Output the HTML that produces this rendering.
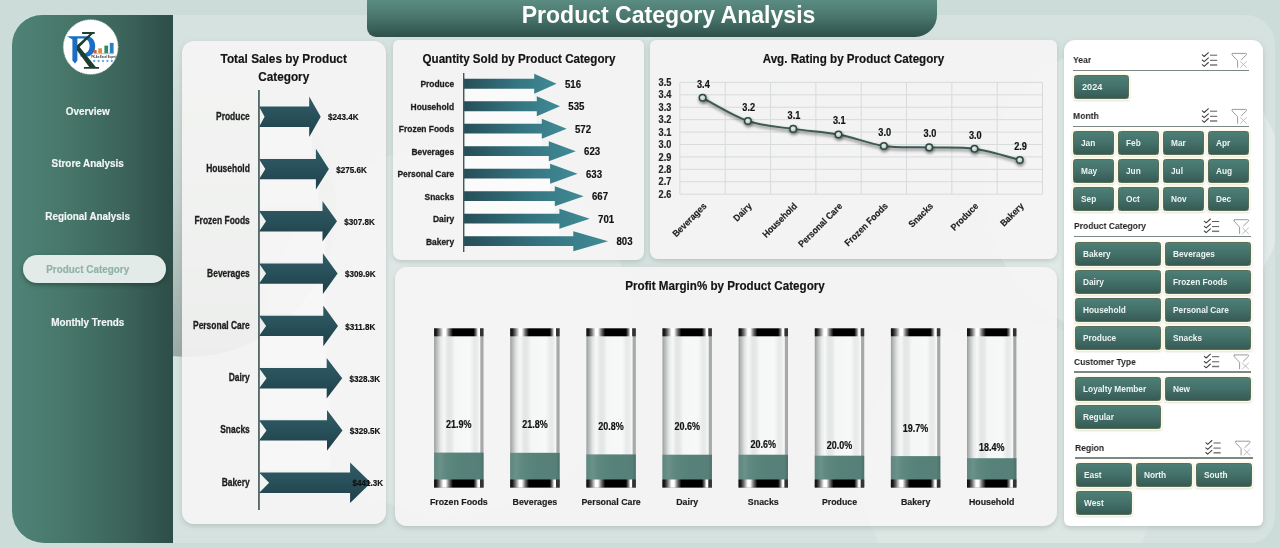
<!DOCTYPE html>
<html><head><meta charset="utf-8"><title>Product Category Analysis</title>
<style>
*{box-sizing:border-box;margin:0;padding:0}
html,body{width:1280px;height:548px;overflow:hidden}
body{background:#ccddd9;font-family:"Liberation Sans",sans-serif;position:relative;color:#1d1d1d}
.abs{position:absolute}
#inner{left:12px;top:15px;width:1263px;height:528px;background:#d6e2df;border-radius:28px 30px 26px 30px}
#side{left:12px;top:15px;width:161px;height:528px;border-radius:30px 0 0 32px;background:linear-gradient(90deg,#4f8377 0%,#477669 35%,#3b635a 70%,#2e4d48 100%)}
#title{left:367px;top:0;width:570px;height:37px;border-radius:0 0 22px 9px;background:linear-gradient(180deg,#5b8c81 0%,#4a776d 45%,#2e504a 100%);color:#fff;font-weight:bold;font-size:23.05px;text-align:center;line-height:31px;padding-left:33px}
.card{background:rgba(245,245,244,0.9);border-radius:12px;box-shadow:0 2px 5px rgba(120,140,135,.35)}
.nav{left:12px;width:151px;text-align:center;color:#f2f6f5;font-weight:bold;font-size:11px;line-height:14px;letter-spacing:-0.2px}
#pill{left:23px;top:255px;width:143px;height:28px;border-radius:14px;background:#e3ebe8;box-shadow:0 2px 4px rgba(20,40,35,.45)}
.sl-h{font-weight:bold;font-size:9.8px;color:#222;line-height:12px;transform:scaleX(0.875);transform-origin:0 50%;white-space:nowrap}
.sl-u{height:1.6px;background:#7f8785}
.btn{background:linear-gradient(180deg,#4d7f77 0%,#43706a 50%,#375a54 100%);border:1px solid #5a6f58;border-radius:2.5px;color:#eef4f2;font-weight:bold;font-size:9.6px;padding-left:7px;box-shadow:0 0 0 1.2px #fdf9e4, 0 1px 2px 1px rgba(120,120,90,.25)}
.btn span{display:inline-block;transform:scaleX(0.865);transform-origin:0 50%;white-space:nowrap}
svg,.btn,.sl-h,#title{will-change:transform}
svg text{font-family:"Liberation Sans",sans-serif;font-weight:bold}
</style></head>
<body>
<div id="inner" class="abs"></div>
<svg class="abs" style="left:0;top:0" width="1280" height="548" viewBox="0 0 1280 548">
<defs>
<linearGradient id="dA" x1="0" y1="0" x2="0" y2="1"><stop offset="0" stop-color="#8e9d99" stop-opacity="0"/><stop offset="0.45" stop-color="#8e9d99" stop-opacity="0.25"/><stop offset="1" stop-color="#8a9995" stop-opacity="0.78"/></linearGradient>
<clipPath id="clipInner"><rect x="12" y="15" width="1263" height="528" rx="28"/></clipPath>
</defs>
<g clip-path="url(#clipInner)">
<circle cx="188" cy="209" r="148" fill="url(#dA)"/>
<circle cx="449" cy="330" r="184" fill="#ffffff" opacity="0.22"/>
<circle cx="1135" cy="190" r="150" fill="#ffffff" opacity="0.28"/>
<circle cx="1010" cy="470" r="150" fill="#ffffff" opacity="0.15"/>
</g>
</svg>
<div id="side" class="abs"></div>
<div id="title" class="abs">Product Category Analysis</div>
<div class="abs card" style="left:181.5px;top:41px;width:204.5px;height:483px"></div>
<div class="abs card" style="left:393px;top:40px;width:251.2px;height:219.7px;border-radius:6px 6px 8px 8px"></div>
<div class="abs card" style="left:650px;top:40px;width:407.3px;height:218.6px;border-radius:6px 6px 8px 8px"></div>
<div class="abs card" style="left:395.3px;top:267px;width:661.4px;height:258.7px;border-radius:12px 12px 14px 12px"></div>
<div class="abs card" style="left:1064px;top:40px;width:199px;height:486px;background:#fff;border-radius:11px 11px 6px 6px"></div>
<div id="pill" class="abs"></div>
<div class="abs sl-h" style="left:1073px;top:53.6px">Year</div>
<div class="abs sl-u" style="left:1073px;top:69.9px;width:176px"></div>
<div class="abs btn" style="left:1074px;top:75.4px;width:55px;height:23.6px;line-height:22.8px"><span><b style="display:inline-block;transform:scaleX(1.13);transform-origin:0 50%;font-size:9.4px">2024</b></span></div>
<div class="abs sl-h" style="left:1073px;top:109.9px">Month</div>
<div class="abs sl-u" style="left:1073px;top:125.9px;width:176px"></div>
<div class="abs btn" style="left:1073px;top:131.4px;width:41px;height:23.6px;line-height:22.8px"><span>Jan</span></div>
<div class="abs btn" style="left:1118px;top:131.4px;width:41px;height:23.6px;line-height:22.8px"><span>Feb</span></div>
<div class="abs btn" style="left:1163px;top:131.4px;width:41px;height:23.6px;line-height:22.8px"><span>Mar</span></div>
<div class="abs btn" style="left:1208px;top:131.4px;width:41px;height:23.6px;line-height:22.8px"><span>Apr</span></div>
<div class="abs btn" style="left:1073px;top:159.4px;width:41px;height:23.6px;line-height:22.8px"><span>May</span></div>
<div class="abs btn" style="left:1118px;top:159.4px;width:41px;height:23.6px;line-height:22.8px"><span>Jun</span></div>
<div class="abs btn" style="left:1163px;top:159.4px;width:41px;height:23.6px;line-height:22.8px"><span>Jul</span></div>
<div class="abs btn" style="left:1208px;top:159.4px;width:41px;height:23.6px;line-height:22.8px"><span>Aug</span></div>
<div class="abs btn" style="left:1073px;top:187.4px;width:41px;height:23.6px;line-height:22.8px"><span>Sep</span></div>
<div class="abs btn" style="left:1118px;top:187.4px;width:41px;height:23.6px;line-height:22.8px"><span>Oct</span></div>
<div class="abs btn" style="left:1163px;top:187.4px;width:41px;height:23.6px;line-height:22.8px"><span>Nov</span></div>
<div class="abs btn" style="left:1208px;top:187.4px;width:41px;height:23.6px;line-height:22.8px"><span>Dec</span></div>
<div class="abs sl-h" style="left:1074px;top:220.4px">Product Category</div>
<div class="abs sl-u" style="left:1074px;top:235.89999999999998px;width:177px"></div>
<div class="abs btn" style="left:1075px;top:242.4px;width:86px;height:23.6px;line-height:22.8px"><span>Bakery</span></div>
<div class="abs btn" style="left:1165px;top:242.4px;width:86px;height:23.6px;line-height:22.8px"><span>Beverages</span></div>
<div class="abs btn" style="left:1075px;top:270.4px;width:86px;height:23.6px;line-height:22.8px"><span>Dairy</span></div>
<div class="abs btn" style="left:1165px;top:270.4px;width:86px;height:23.6px;line-height:22.8px"><span>Frozen Foods</span></div>
<div class="abs btn" style="left:1075px;top:298.4px;width:86px;height:23.6px;line-height:22.8px"><span>Household</span></div>
<div class="abs btn" style="left:1165px;top:298.4px;width:86px;height:23.6px;line-height:22.8px"><span>Personal Care</span></div>
<div class="abs btn" style="left:1075px;top:326.4px;width:86px;height:23.6px;line-height:22.8px"><span>Produce</span></div>
<div class="abs btn" style="left:1165px;top:326.4px;width:86px;height:23.6px;line-height:22.8px"><span>Snacks</span></div>
<div class="abs sl-h" style="left:1074px;top:355.5px">Customer Type</div>
<div class="abs sl-u" style="left:1074px;top:371.0px;width:177px"></div>
<div class="abs btn" style="left:1075px;top:377.4px;width:86px;height:23.6px;line-height:22.8px"><span>Loyalty Member</span></div>
<div class="abs btn" style="left:1165px;top:377.4px;width:86px;height:23.6px;line-height:22.8px"><span>New</span></div>
<div class="abs btn" style="left:1075px;top:405.4px;width:86px;height:23.6px;line-height:22.8px"><span>Regular</span></div>
<div class="abs sl-h" style="left:1075px;top:441.7px">Region</div>
<div class="abs sl-u" style="left:1075px;top:457.09999999999997px;width:178px"></div>
<div class="abs btn" style="left:1076px;top:463.4px;width:56px;height:23.6px;line-height:22.8px"><span>East</span></div>
<div class="abs btn" style="left:1136px;top:463.4px;width:56px;height:23.6px;line-height:22.8px"><span>North</span></div>
<div class="abs btn" style="left:1196px;top:463.4px;width:56px;height:23.6px;line-height:22.8px"><span>South</span></div>
<div class="abs btn" style="left:1076px;top:491.4px;width:56px;height:23.6px;line-height:22.8px"><span>West</span></div>
<svg class="abs" style="left:0;top:0" width="1280" height="548" viewBox="0 0 1280 548">
<defs>
<linearGradient id="gA" x1="0" y1="0" x2="0" y2="1"><stop offset="0" stop-color="#315b65"/><stop offset="0.5" stop-color="#28505a"/><stop offset="1" stop-color="#1e3f48"/></linearGradient>
<linearGradient id="gB" x1="0" y1="0" x2="1" y2="0"><stop offset="0" stop-color="#274e58"/><stop offset="0.55" stop-color="#347480"/><stop offset="1" stop-color="#418b96"/></linearGradient>
<linearGradient id="gCap" x1="0" y1="0" x2="1" y2="0"><stop offset="0" stop-color="#0d0d0d"/><stop offset="0.045" stop-color="#1c1c1c"/><stop offset="0.10" stop-color="#6a6a6a"/><stop offset="0.185" stop-color="#ffffff"/><stop offset="0.235" stop-color="#ffffff"/><stop offset="0.30" stop-color="#777"/><stop offset="0.38" stop-color="#000"/><stop offset="0.80" stop-color="#000"/><stop offset="0.85" stop-color="#777"/><stop offset="0.89" stop-color="#fff"/><stop offset="0.92" stop-color="#fff"/><stop offset="0.935" stop-color="#333"/><stop offset="1" stop-color="#333"/></linearGradient>
<linearGradient id="gTube" x1="0" y1="0" x2="1" y2="0"><stop offset="0" stop-color="#9a9d9d"/><stop offset="0.04" stop-color="#b4b7b7"/><stop offset="0.13" stop-color="#e6e8e8"/><stop offset="0.20" stop-color="#f6f7f7"/><stop offset="0.28" stop-color="#e4e6e6"/><stop offset="0.35" stop-color="#e6e8e8"/><stop offset="0.42" stop-color="#f5f6f6"/><stop offset="0.72" stop-color="#f7f8f8"/><stop offset="0.82" stop-color="#e7e9e9"/><stop offset="0.88" stop-color="#ebeded"/><stop offset="0.925" stop-color="#f8f8f8"/><stop offset="0.945" stop-color="#a9acac"/><stop offset="1" stop-color="#a2a5a5"/></linearGradient>
<linearGradient id="gFill" x1="0" y1="0" x2="1" y2="0"><stop offset="0" stop-color="#5b867e"/><stop offset="0.12" stop-color="#6b9189"/><stop offset="0.25" stop-color="#5d877f"/><stop offset="0.5" stop-color="#56827a"/><stop offset="0.93" stop-color="#567f78"/><stop offset="1" stop-color="#4a7069"/></linearGradient>
<radialGradient id="gDot" cx="0.45" cy="0.42" r="0.6"><stop offset="0" stop-color="#eef3f1"/><stop offset="0.55" stop-color="#c3d2ce"/><stop offset="1" stop-color="#7d9a93"/></radialGradient>
<filter id="sh" x="-50%" y="-50%" width="200%" height="200%"><feGaussianBlur stdDeviation="1.5"/></filter>
</defs>
<g id="c1">
<text transform="translate(283.7,63.0) scale(0.908,1)" font-size="13" text-anchor="middle" fill="#131313" stroke="#131313" stroke-width="0.18" >Total Sales by Product</text>
<text transform="translate(283.7,80.5) scale(0.908,1)" font-size="13" text-anchor="middle" fill="#131313" stroke="#131313" stroke-width="0.18" >Category</text>
<rect x="260.0" y="127.0" width="52.2" height="30" fill="#ffffff" opacity="0.32"/>
<path d="M259.0,106.6 L309.2,106.6 L309.2,96.5 L320.7,116.8 L309.2,137.1 L309.2,127.0 L259.0,127.0 L264.6,116.8 Z" fill="url(#gA)"/>
<text transform="translate(249.8,119.8) scale(0.845,1)" font-size="10" text-anchor="end" fill="#1d1d1d" stroke="#1d1d1d" stroke-width="0.3" >Produce</text>
<text transform="translate(328.0,120.4) scale(0.9,1)" font-size="9" text-anchor="start" fill="#111" stroke="#111" stroke-width="0.18" >$243.4K</text>
<rect x="260.0" y="179.3" width="58.9" height="30" fill="#ffffff" opacity="0.32"/>
<path d="M259.0,158.9 L315.9,158.9 L315.9,148.8 L328.9,169.1 L315.9,189.4 L315.9,179.3 L259.0,179.3 L265.3,169.1 Z" fill="url(#gA)"/>
<text transform="translate(249.8,172.1) scale(0.845,1)" font-size="10" text-anchor="end" fill="#1d1d1d" stroke="#1d1d1d" stroke-width="0.3" >Household</text>
<text transform="translate(336.2,172.7) scale(0.9,1)" font-size="9" text-anchor="start" fill="#111" stroke="#111" stroke-width="0.18" >$275.6K</text>
<rect x="260.0" y="231.5" width="65.5" height="30" fill="#ffffff" opacity="0.32"/>
<path d="M259.0,211.1 L322.5,211.1 L322.5,201.0 L337.0,221.3 L322.5,241.6 L322.5,231.5 L259.0,231.5 L266.0,221.3 Z" fill="url(#gA)"/>
<text transform="translate(249.8,224.3) scale(0.845,1)" font-size="10" text-anchor="end" fill="#1d1d1d" stroke="#1d1d1d" stroke-width="0.3" >Frozen Foods</text>
<text transform="translate(344.3,224.9) scale(0.9,1)" font-size="9" text-anchor="start" fill="#111" stroke="#111" stroke-width="0.18" >$307.8K</text>
<rect x="260.0" y="283.8" width="65.9" height="30" fill="#ffffff" opacity="0.32"/>
<path d="M259.0,263.4 L322.9,263.4 L322.9,253.3 L337.6,273.6 L322.9,293.9 L322.9,283.8 L259.0,283.8 L266.1,273.6 Z" fill="url(#gA)"/>
<text transform="translate(249.8,276.6) scale(0.845,1)" font-size="10" text-anchor="end" fill="#1d1d1d" stroke="#1d1d1d" stroke-width="0.3" >Beverages</text>
<text transform="translate(344.9,277.2) scale(0.9,1)" font-size="9" text-anchor="start" fill="#111" stroke="#111" stroke-width="0.18" >$309.9K</text>
<rect x="260.0" y="336.1" width="66.3" height="30" fill="#ffffff" opacity="0.32"/>
<path d="M259.0,315.7 L323.3,315.7 L323.3,305.6 L338.0,325.9 L323.3,346.2 L323.3,336.1 L259.0,336.1 L266.1,325.9 Z" fill="url(#gA)"/>
<text transform="translate(249.8,328.9) scale(0.845,1)" font-size="10" text-anchor="end" fill="#1d1d1d" stroke="#1d1d1d" stroke-width="0.3" >Personal Care</text>
<text transform="translate(345.3,329.5) scale(0.9,1)" font-size="9" text-anchor="start" fill="#111" stroke="#111" stroke-width="0.18" >$311.8K</text>
<rect x="260.0" y="388.4" width="69.7" height="30" fill="#ffffff" opacity="0.32"/>
<path d="M259.0,368.0 L326.7,368.0 L326.7,357.9 L342.2,378.2 L326.7,398.5 L326.7,388.4 L259.0,388.4 L266.5,378.2 Z" fill="url(#gA)"/>
<text transform="translate(249.8,381.2) scale(0.845,1)" font-size="10" text-anchor="end" fill="#1d1d1d" stroke="#1d1d1d" stroke-width="0.3" >Dairy</text>
<text transform="translate(349.5,381.8) scale(0.9,1)" font-size="9" text-anchor="start" fill="#111" stroke="#111" stroke-width="0.18" >$328.3K</text>
<rect x="260.0" y="440.6" width="70.0" height="30" fill="#ffffff" opacity="0.32"/>
<path d="M259.0,420.2 L327.0,420.2 L327.0,410.1 L342.5,430.4 L327.0,450.7 L327.0,440.6 L259.0,440.6 L266.5,430.4 Z" fill="url(#gA)"/>
<text transform="translate(249.8,433.4) scale(0.845,1)" font-size="10" text-anchor="end" fill="#1d1d1d" stroke="#1d1d1d" stroke-width="0.3" >Snacks</text>
<text transform="translate(349.8,434.0) scale(0.9,1)" font-size="9" text-anchor="start" fill="#111" stroke="#111" stroke-width="0.18" >$329.5K</text>
<path d="M259.0,472.5 L350.1,472.5 L350.1,462.4 L370.9,482.7 L350.1,503.0 L350.1,492.9 L259.0,492.9 L269.1,482.7 Z" fill="url(#gA)"/>
<text transform="translate(249.8,485.7) scale(0.845,1)" font-size="10" text-anchor="end" fill="#1d1d1d" stroke="#1d1d1d" stroke-width="0.3" >Bakery</text>
<text transform="translate(352.5,486.3) scale(0.9,1)" font-size="9" text-anchor="start" fill="#111" stroke="#111" stroke-width="0.18" >$441.3K</text>
<rect x="258.1" y="90" width="1.7" height="420" fill="#475c5d"/>
</g>
<g id="c2">
<text transform="translate(519.0,63.0) scale(0.93,1)" font-size="12.5" text-anchor="middle" fill="#131313" stroke="#131313" stroke-width="0.18" >Quantity Sold by Product Category</text>
<rect x="465.5" y="88.3" width="68.7" height="12.5" fill="#ffffff" opacity="0.6"/>
<path d="M464.0,78.8 L534.2,78.8 L534.2,73.7 L556.6,83.7 L534.2,93.7 L534.2,88.7 L464.0,88.7 Z" fill="url(#gB)"/>
<text transform="translate(454.1,87.0) scale(0.862,1)" font-size="9.8" text-anchor="end" fill="#1d1d1d" stroke="#1d1d1d" stroke-width="0.3" >Produce</text>
<text transform="translate(564.9,87.5) scale(0.92,1)" font-size="10.5" text-anchor="start" fill="#111" stroke="#111" stroke-width="0.18" >516</text>
<rect x="465.5" y="110.8" width="71.3" height="12.5" fill="#ffffff" opacity="0.6"/>
<path d="M464.0,101.2 L536.8,101.2 L536.8,96.2 L560.0,106.2 L536.8,116.2 L536.8,111.2 L464.0,111.2 Z" fill="url(#gB)"/>
<text transform="translate(454.1,109.5) scale(0.862,1)" font-size="9.8" text-anchor="end" fill="#1d1d1d" stroke="#1d1d1d" stroke-width="0.3" >Household</text>
<text transform="translate(568.3,110.0) scale(0.92,1)" font-size="10.5" text-anchor="start" fill="#111" stroke="#111" stroke-width="0.18" >535</text>
<rect x="465.5" y="133.3" width="76.3" height="12.5" fill="#ffffff" opacity="0.6"/>
<path d="M464.0,123.7 L541.8,123.7 L541.8,118.7 L566.7,128.7 L541.8,138.7 L541.8,133.6 L464.0,133.6 Z" fill="url(#gB)"/>
<text transform="translate(454.1,132.0) scale(0.862,1)" font-size="9.8" text-anchor="end" fill="#1d1d1d" stroke="#1d1d1d" stroke-width="0.3" >Frozen Foods</text>
<text transform="translate(575.0,132.5) scale(0.92,1)" font-size="10.5" text-anchor="start" fill="#111" stroke="#111" stroke-width="0.18" >572</text>
<rect x="465.5" y="155.8" width="83.3" height="12.5" fill="#ffffff" opacity="0.6"/>
<path d="M464.0,146.2 L548.8,146.2 L548.8,141.2 L575.8,151.2 L548.8,161.2 L548.8,156.1 L464.0,156.1 Z" fill="url(#gB)"/>
<text transform="translate(454.1,154.5) scale(0.862,1)" font-size="9.8" text-anchor="end" fill="#1d1d1d" stroke="#1d1d1d" stroke-width="0.3" >Beverages</text>
<text transform="translate(584.1,155.0) scale(0.92,1)" font-size="10.5" text-anchor="start" fill="#111" stroke="#111" stroke-width="0.18" >623</text>
<rect x="465.5" y="178.3" width="84.6" height="12.5" fill="#ffffff" opacity="0.6"/>
<path d="M464.0,168.8 L550.1,168.8 L550.1,163.7 L577.6,173.7 L550.1,183.7 L550.1,178.6 L464.0,178.6 Z" fill="url(#gB)"/>
<text transform="translate(454.1,177.0) scale(0.862,1)" font-size="9.8" text-anchor="end" fill="#1d1d1d" stroke="#1d1d1d" stroke-width="0.3" >Personal Care</text>
<text transform="translate(585.9,177.5) scale(0.92,1)" font-size="10.5" text-anchor="start" fill="#111" stroke="#111" stroke-width="0.18" >633</text>
<rect x="465.5" y="200.8" width="89.3" height="12.5" fill="#ffffff" opacity="0.6"/>
<path d="M464.0,191.2 L554.8,191.2 L554.8,186.2 L583.7,196.2 L554.8,206.2 L554.8,201.1 L464.0,201.1 Z" fill="url(#gB)"/>
<text transform="translate(454.1,199.5) scale(0.862,1)" font-size="9.8" text-anchor="end" fill="#1d1d1d" stroke="#1d1d1d" stroke-width="0.3" >Snacks</text>
<text transform="translate(592.0,200.0) scale(0.92,1)" font-size="10.5" text-anchor="start" fill="#111" stroke="#111" stroke-width="0.18" >667</text>
<rect x="465.5" y="223.3" width="93.9" height="12.5" fill="#ffffff" opacity="0.6"/>
<path d="M464.0,213.8 L559.4,213.8 L559.4,208.7 L589.8,218.7 L559.4,228.7 L559.4,223.6 L464.0,223.6 Z" fill="url(#gB)"/>
<text transform="translate(454.1,222.0) scale(0.862,1)" font-size="9.8" text-anchor="end" fill="#1d1d1d" stroke="#1d1d1d" stroke-width="0.3" >Dairy</text>
<text transform="translate(598.1,222.5) scale(0.92,1)" font-size="10.5" text-anchor="start" fill="#111" stroke="#111" stroke-width="0.18" >701</text>
<path d="M464.0,236.2 L573.3,236.2 L573.3,231.2 L608.1,241.2 L573.3,251.2 L573.3,246.1 L464.0,246.1 Z" fill="url(#gB)"/>
<text transform="translate(454.1,244.5) scale(0.862,1)" font-size="9.8" text-anchor="end" fill="#1d1d1d" stroke="#1d1d1d" stroke-width="0.3" >Bakery</text>
<text transform="translate(616.4,245.0) scale(0.92,1)" font-size="10.5" text-anchor="start" fill="#111" stroke="#111" stroke-width="0.18" >803</text>
<rect x="463" y="73" width="1.4" height="179" fill="#3c5a5e"/>
</g>
<g id="c3">
<text transform="translate(853.5,63.0) scale(0.93,1)" font-size="12.5" text-anchor="middle" fill="#131313" stroke="#131313" stroke-width="0.18" >Avg. Rating by Product Category</text>
<line x1="679.9" y1="82.40" x2="1042.5" y2="82.40" stroke="#d8dbdb" stroke-width="1"/>
<text transform="translate(671.3,86.0) scale(0.92,1)" font-size="10" text-anchor="end" fill="#222" stroke="#222" stroke-width="0.18" >3.5</text>
<line x1="679.9" y1="94.82" x2="1042.5" y2="94.82" stroke="#d8dbdb" stroke-width="1"/>
<text transform="translate(671.3,98.4) scale(0.92,1)" font-size="10" text-anchor="end" fill="#222" stroke="#222" stroke-width="0.18" >3.4</text>
<line x1="679.9" y1="107.24" x2="1042.5" y2="107.24" stroke="#d8dbdb" stroke-width="1"/>
<text transform="translate(671.3,110.8) scale(0.92,1)" font-size="10" text-anchor="end" fill="#222" stroke="#222" stroke-width="0.18" >3.3</text>
<line x1="679.9" y1="119.67" x2="1042.5" y2="119.67" stroke="#d8dbdb" stroke-width="1"/>
<text transform="translate(671.3,123.3) scale(0.92,1)" font-size="10" text-anchor="end" fill="#222" stroke="#222" stroke-width="0.18" >3.2</text>
<line x1="679.9" y1="132.09" x2="1042.5" y2="132.09" stroke="#d8dbdb" stroke-width="1"/>
<text transform="translate(671.3,135.7) scale(0.92,1)" font-size="10" text-anchor="end" fill="#222" stroke="#222" stroke-width="0.18" >3.1</text>
<line x1="679.9" y1="144.51" x2="1042.5" y2="144.51" stroke="#d8dbdb" stroke-width="1"/>
<text transform="translate(671.3,148.1) scale(0.92,1)" font-size="10" text-anchor="end" fill="#222" stroke="#222" stroke-width="0.18" >3.0</text>
<line x1="679.9" y1="156.93" x2="1042.5" y2="156.93" stroke="#d8dbdb" stroke-width="1"/>
<text transform="translate(671.3,160.5) scale(0.92,1)" font-size="10" text-anchor="end" fill="#222" stroke="#222" stroke-width="0.18" >2.9</text>
<line x1="679.9" y1="169.36" x2="1042.5" y2="169.36" stroke="#d8dbdb" stroke-width="1"/>
<text transform="translate(671.3,173.0) scale(0.92,1)" font-size="10" text-anchor="end" fill="#222" stroke="#222" stroke-width="0.18" >2.8</text>
<line x1="679.9" y1="181.78" x2="1042.5" y2="181.78" stroke="#d8dbdb" stroke-width="1"/>
<text transform="translate(671.3,185.4) scale(0.92,1)" font-size="10" text-anchor="end" fill="#222" stroke="#222" stroke-width="0.18" >2.7</text>
<line x1="679.9" y1="194.20" x2="1042.5" y2="194.20" stroke="#d8dbdb" stroke-width="1"/>
<text transform="translate(671.3,197.8) scale(0.92,1)" font-size="10" text-anchor="end" fill="#222" stroke="#222" stroke-width="0.18" >2.6</text>
<line x1="679.90" y1="82.4" x2="679.90" y2="194.2" stroke="#d8dbdb" stroke-width="1"/>
<line x1="725.23" y1="82.4" x2="725.23" y2="194.2" stroke="#d8dbdb" stroke-width="1"/>
<line x1="770.55" y1="82.4" x2="770.55" y2="194.2" stroke="#d8dbdb" stroke-width="1"/>
<line x1="815.88" y1="82.4" x2="815.88" y2="194.2" stroke="#d8dbdb" stroke-width="1"/>
<line x1="861.20" y1="82.4" x2="861.20" y2="194.2" stroke="#d8dbdb" stroke-width="1"/>
<line x1="906.52" y1="82.4" x2="906.52" y2="194.2" stroke="#d8dbdb" stroke-width="1"/>
<line x1="951.85" y1="82.4" x2="951.85" y2="194.2" stroke="#d8dbdb" stroke-width="1"/>
<line x1="997.17" y1="82.4" x2="997.17" y2="194.2" stroke="#d8dbdb" stroke-width="1"/>
<line x1="1042.50" y1="82.4" x2="1042.50" y2="194.2" stroke="#d8dbdb" stroke-width="1"/>
<path d="M702.6,97.8 C710.1,101.7 732.8,115.8 747.9,121.0 C763.0,126.2 778.1,126.7 793.2,128.9 C808.3,131.2 823.4,131.7 838.5,134.5 C853.6,137.3 868.8,143.8 883.9,146.0 C899.0,148.2 914.1,146.9 929.2,147.4 C944.3,147.9 959.4,146.7 974.5,148.8 C989.6,150.9 1012.3,158.1 1019.8,160.0" fill="none" stroke="#000" stroke-opacity="0.35" stroke-width="3" filter="url(#sh)" transform="translate(0.5,2)"/>
<path d="M702.6,97.8 C710.1,101.7 732.8,115.8 747.9,121.0 C763.0,126.2 778.1,126.7 793.2,128.9 C808.3,131.2 823.4,131.7 838.5,134.5 C853.6,137.3 868.8,143.8 883.9,146.0 C899.0,148.2 914.1,146.9 929.2,147.4 C944.3,147.9 959.4,146.7 974.5,148.8 C989.6,150.9 1012.3,158.1 1019.8,160.0" fill="none" stroke="#3b5a54" stroke-width="1.9" stroke-linecap="round"/>
<circle cx="703.1" cy="99.6" r="4.6" fill="#000" opacity="0.4" filter="url(#sh)"/>
<circle cx="702.6" cy="97.8" r="3.3" fill="url(#gDot)" stroke="#2d4842" stroke-width="1.5"/>
<text transform="translate(703.4,87.6) scale(0.92,1)" font-size="10" text-anchor="middle" fill="#111" stroke="#111" stroke-width="0.18" >3.4</text>
<text transform="translate(707.1,206.7) rotate(-45) scale(0.93,1)" font-size="9.3" text-anchor="end" fill="#1d1d1d" stroke="#1d1d1d" stroke-width="0.18" >Beverages</text>
<circle cx="748.4" cy="122.8" r="4.6" fill="#000" opacity="0.4" filter="url(#sh)"/>
<circle cx="747.9" cy="121.0" r="3.3" fill="url(#gDot)" stroke="#2d4842" stroke-width="1.5"/>
<text transform="translate(748.7,110.8) scale(0.92,1)" font-size="10" text-anchor="middle" fill="#111" stroke="#111" stroke-width="0.18" >3.2</text>
<text transform="translate(752.4,206.7) rotate(-45) scale(0.93,1)" font-size="9.3" text-anchor="end" fill="#1d1d1d" stroke="#1d1d1d" stroke-width="0.18" >Dairy</text>
<circle cx="793.7" cy="130.7" r="4.6" fill="#000" opacity="0.4" filter="url(#sh)"/>
<circle cx="793.2" cy="128.9" r="3.3" fill="url(#gDot)" stroke="#2d4842" stroke-width="1.5"/>
<text transform="translate(794.0,118.7) scale(0.92,1)" font-size="10" text-anchor="middle" fill="#111" stroke="#111" stroke-width="0.18" >3.1</text>
<text transform="translate(797.7,206.7) rotate(-45) scale(0.93,1)" font-size="9.3" text-anchor="end" fill="#1d1d1d" stroke="#1d1d1d" stroke-width="0.18" >Household</text>
<circle cx="839.0" cy="136.3" r="4.6" fill="#000" opacity="0.4" filter="url(#sh)"/>
<circle cx="838.5" cy="134.5" r="3.3" fill="url(#gDot)" stroke="#2d4842" stroke-width="1.5"/>
<text transform="translate(839.3,124.3) scale(0.92,1)" font-size="10" text-anchor="middle" fill="#111" stroke="#111" stroke-width="0.18" >3.1</text>
<text transform="translate(843.0,206.7) rotate(-45) scale(0.93,1)" font-size="9.3" text-anchor="end" fill="#1d1d1d" stroke="#1d1d1d" stroke-width="0.18" >Personal Care</text>
<circle cx="884.4" cy="147.8" r="4.6" fill="#000" opacity="0.4" filter="url(#sh)"/>
<circle cx="883.9" cy="146.0" r="3.3" fill="url(#gDot)" stroke="#2d4842" stroke-width="1.5"/>
<text transform="translate(884.7,135.8) scale(0.92,1)" font-size="10" text-anchor="middle" fill="#111" stroke="#111" stroke-width="0.18" >3.0</text>
<text transform="translate(888.4,206.7) rotate(-45) scale(0.93,1)" font-size="9.3" text-anchor="end" fill="#1d1d1d" stroke="#1d1d1d" stroke-width="0.18" >Frozen Foods</text>
<circle cx="929.7" cy="149.2" r="4.6" fill="#000" opacity="0.4" filter="url(#sh)"/>
<circle cx="929.2" cy="147.4" r="3.3" fill="url(#gDot)" stroke="#2d4842" stroke-width="1.5"/>
<text transform="translate(930.0,137.2) scale(0.92,1)" font-size="10" text-anchor="middle" fill="#111" stroke="#111" stroke-width="0.18" >3.0</text>
<text transform="translate(933.7,206.7) rotate(-45) scale(0.93,1)" font-size="9.3" text-anchor="end" fill="#1d1d1d" stroke="#1d1d1d" stroke-width="0.18" >Snacks</text>
<circle cx="975.0" cy="150.6" r="4.6" fill="#000" opacity="0.4" filter="url(#sh)"/>
<circle cx="974.5" cy="148.8" r="3.3" fill="url(#gDot)" stroke="#2d4842" stroke-width="1.5"/>
<text transform="translate(975.3,138.6) scale(0.92,1)" font-size="10" text-anchor="middle" fill="#111" stroke="#111" stroke-width="0.18" >3.0</text>
<text transform="translate(979.0,206.7) rotate(-45) scale(0.93,1)" font-size="9.3" text-anchor="end" fill="#1d1d1d" stroke="#1d1d1d" stroke-width="0.18" >Produce</text>
<circle cx="1020.3" cy="161.8" r="4.6" fill="#000" opacity="0.4" filter="url(#sh)"/>
<circle cx="1019.8" cy="160.0" r="3.3" fill="url(#gDot)" stroke="#2d4842" stroke-width="1.5"/>
<text transform="translate(1020.6,149.8) scale(0.92,1)" font-size="10" text-anchor="middle" fill="#111" stroke="#111" stroke-width="0.18" >2.9</text>
<text transform="translate(1024.3,206.7) rotate(-45) scale(0.93,1)" font-size="9.3" text-anchor="end" fill="#1d1d1d" stroke="#1d1d1d" stroke-width="0.18" >Bakery</text>
</g>
<g id="c4">
<text transform="translate(725.0,289.5) scale(0.93,1)" font-size="12.5" text-anchor="middle" fill="#131313" stroke="#131313" stroke-width="0.18" >Profit Margin% by Product Category</text>
<rect x="434.1" y="328.3" width="49.4" height="159.2" fill="url(#gTube)"/>
<rect x="434.1" y="452.6" width="49.4" height="34.9" fill="url(#gFill)"/>
<rect x="434.1" y="328.3" width="49.4" height="8" fill="url(#gCap)"/>
<rect x="434.1" y="479.5" width="49.4" height="8" fill="url(#gCap)"/>
<text transform="translate(458.8,428.0) scale(0.9,1)" font-size="10" text-anchor="middle" fill="#111" stroke="#111" stroke-width="0.18" >21.9%</text>
<text transform="translate(458.8,505.2) scale(0.9,1)" font-size="9.8" text-anchor="middle" fill="#1d1d1d" stroke="#1d1d1d" stroke-width="0.18" >Frozen Foods</text>
<rect x="510.2" y="328.3" width="49.4" height="159.2" fill="url(#gTube)"/>
<rect x="510.2" y="452.8" width="49.4" height="34.7" fill="url(#gFill)"/>
<rect x="510.2" y="328.3" width="49.4" height="8" fill="url(#gCap)"/>
<rect x="510.2" y="479.5" width="49.4" height="8" fill="url(#gCap)"/>
<text transform="translate(534.9,428.0) scale(0.9,1)" font-size="10" text-anchor="middle" fill="#111" stroke="#111" stroke-width="0.18" >21.8%</text>
<text transform="translate(534.9,505.2) scale(0.9,1)" font-size="9.8" text-anchor="middle" fill="#1d1d1d" stroke="#1d1d1d" stroke-width="0.18" >Beverages</text>
<rect x="586.4" y="328.3" width="49.4" height="159.2" fill="url(#gTube)"/>
<rect x="586.4" y="454.4" width="49.4" height="33.1" fill="url(#gFill)"/>
<rect x="586.4" y="328.3" width="49.4" height="8" fill="url(#gCap)"/>
<rect x="586.4" y="479.5" width="49.4" height="8" fill="url(#gCap)"/>
<text transform="translate(611.1,430.1) scale(0.9,1)" font-size="10" text-anchor="middle" fill="#111" stroke="#111" stroke-width="0.18" >20.8%</text>
<text transform="translate(611.1,505.2) scale(0.9,1)" font-size="9.8" text-anchor="middle" fill="#1d1d1d" stroke="#1d1d1d" stroke-width="0.18" >Personal Care</text>
<rect x="662.5" y="328.3" width="49.4" height="159.2" fill="url(#gTube)"/>
<rect x="662.5" y="454.7" width="49.4" height="32.8" fill="url(#gFill)"/>
<rect x="662.5" y="328.3" width="49.4" height="8" fill="url(#gCap)"/>
<rect x="662.5" y="479.5" width="49.4" height="8" fill="url(#gCap)"/>
<text transform="translate(687.2,430.1) scale(0.9,1)" font-size="10" text-anchor="middle" fill="#111" stroke="#111" stroke-width="0.18" >20.6%</text>
<text transform="translate(687.2,505.2) scale(0.9,1)" font-size="9.8" text-anchor="middle" fill="#1d1d1d" stroke="#1d1d1d" stroke-width="0.18" >Dairy</text>
<rect x="738.6" y="328.3" width="49.4" height="159.2" fill="url(#gTube)"/>
<rect x="738.6" y="454.7" width="49.4" height="32.8" fill="url(#gFill)"/>
<rect x="738.6" y="328.3" width="49.4" height="8" fill="url(#gCap)"/>
<rect x="738.6" y="479.5" width="49.4" height="8" fill="url(#gCap)"/>
<text transform="translate(763.3,447.5) scale(0.9,1)" font-size="10" text-anchor="middle" fill="#111" stroke="#111" stroke-width="0.18" >20.6%</text>
<text transform="translate(763.3,505.2) scale(0.9,1)" font-size="9.8" text-anchor="middle" fill="#1d1d1d" stroke="#1d1d1d" stroke-width="0.18" >Snacks</text>
<rect x="814.8" y="328.3" width="49.4" height="159.2" fill="url(#gTube)"/>
<rect x="814.8" y="455.7" width="49.4" height="31.8" fill="url(#gFill)"/>
<rect x="814.8" y="328.3" width="49.4" height="8" fill="url(#gCap)"/>
<rect x="814.8" y="479.5" width="49.4" height="8" fill="url(#gCap)"/>
<text transform="translate(839.5,448.5) scale(0.9,1)" font-size="10" text-anchor="middle" fill="#111" stroke="#111" stroke-width="0.18" >20.0%</text>
<text transform="translate(839.5,505.2) scale(0.9,1)" font-size="9.8" text-anchor="middle" fill="#1d1d1d" stroke="#1d1d1d" stroke-width="0.18" >Produce</text>
<rect x="890.9" y="328.3" width="49.4" height="159.2" fill="url(#gTube)"/>
<rect x="890.9" y="456.1" width="49.4" height="31.4" fill="url(#gFill)"/>
<rect x="890.9" y="328.3" width="49.4" height="8" fill="url(#gCap)"/>
<rect x="890.9" y="479.5" width="49.4" height="8" fill="url(#gCap)"/>
<text transform="translate(915.6,431.7) scale(0.9,1)" font-size="10" text-anchor="middle" fill="#111" stroke="#111" stroke-width="0.18" >19.7%</text>
<text transform="translate(915.6,505.2) scale(0.9,1)" font-size="9.8" text-anchor="middle" fill="#1d1d1d" stroke="#1d1d1d" stroke-width="0.18" >Bakery</text>
<rect x="967.0" y="328.3" width="49.4" height="159.2" fill="url(#gTube)"/>
<rect x="967.0" y="458.2" width="49.4" height="29.3" fill="url(#gFill)"/>
<rect x="967.0" y="328.3" width="49.4" height="8" fill="url(#gCap)"/>
<rect x="967.0" y="479.5" width="49.4" height="8" fill="url(#gCap)"/>
<text transform="translate(991.7,451.1) scale(0.9,1)" font-size="10" text-anchor="middle" fill="#111" stroke="#111" stroke-width="0.18" >18.4%</text>
<text transform="translate(991.7,505.2) scale(0.9,1)" font-size="9.8" text-anchor="middle" fill="#1d1d1d" stroke="#1d1d1d" stroke-width="0.18" >Household</text>
</g>
<g id="icons">
<path d="M1202.3,54.9 l1.9,1.6 l4.2,-3.8" fill="none" stroke="#3f3f3f" stroke-width="1.05" stroke-linecap="round" stroke-linejoin="round"/>
<line x1="1210.0" y1="55.2" x2="1217.2" y2="55.2" stroke="#4a4a4a" stroke-width="0.9"/>
<path d="M1202.3,60.0 l1.9,1.6 l4.2,-3.8" fill="none" stroke="#3f3f3f" stroke-width="1.05" stroke-linecap="round" stroke-linejoin="round"/>
<line x1="1210.0" y1="60.3" x2="1217.2" y2="60.3" stroke="#4a4a4a" stroke-width="0.9"/>
<path d="M1202.3,64.7 l1.9,1.6 l4.2,-3.8" fill="none" stroke="#3f3f3f" stroke-width="1.05" stroke-linecap="round" stroke-linejoin="round"/>
<line x1="1210.0" y1="65.0" x2="1217.2" y2="65.0" stroke="#777" stroke-width="1.5"/>
<path d="M1232.5,53.4 h13.2 q1.3,0 0.9,1.3 l-5.2,5.0 M1237.6,67.2 v-6.4 l-5.6,-6.0 q-0.6,-1.4 0.6,-1.4" fill="none" stroke="#9a9a9a" stroke-width="1.0" stroke-linejoin="round" stroke-linecap="round"/>
<path d="M1240.5,61.6 l6.0,5.8 M1246.5,61.6 l-6.0,5.8" fill="none" stroke="#b5b5b5" stroke-width="0.9" stroke-linecap="round"/>
<path d="M1202.3,110.9 l1.9,1.6 l4.2,-3.8" fill="none" stroke="#3f3f3f" stroke-width="1.05" stroke-linecap="round" stroke-linejoin="round"/>
<line x1="1210.0" y1="111.2" x2="1217.2" y2="111.2" stroke="#4a4a4a" stroke-width="0.9"/>
<path d="M1202.3,116.0 l1.9,1.6 l4.2,-3.8" fill="none" stroke="#3f3f3f" stroke-width="1.05" stroke-linecap="round" stroke-linejoin="round"/>
<line x1="1210.0" y1="116.3" x2="1217.2" y2="116.3" stroke="#4a4a4a" stroke-width="0.9"/>
<path d="M1202.3,120.7 l1.9,1.6 l4.2,-3.8" fill="none" stroke="#3f3f3f" stroke-width="1.05" stroke-linecap="round" stroke-linejoin="round"/>
<line x1="1210.0" y1="121.0" x2="1217.2" y2="121.0" stroke="#777" stroke-width="1.5"/>
<path d="M1232.5,109.4 h13.2 q1.3,0 0.9,1.3 l-5.2,5.0 M1237.6,123.2 v-6.4 l-5.6,-6.0 q-0.6,-1.4 0.6,-1.4" fill="none" stroke="#9a9a9a" stroke-width="1.0" stroke-linejoin="round" stroke-linecap="round"/>
<path d="M1240.5,117.6 l6.0,5.8 M1246.5,117.6 l-6.0,5.8" fill="none" stroke="#b5b5b5" stroke-width="0.9" stroke-linecap="round"/>
<path d="M1204.3,221.2 l1.9,1.6 l4.2,-3.8" fill="none" stroke="#3f3f3f" stroke-width="1.05" stroke-linecap="round" stroke-linejoin="round"/>
<line x1="1212.0" y1="221.5" x2="1219.2" y2="221.5" stroke="#4a4a4a" stroke-width="0.9"/>
<path d="M1204.3,226.3 l1.9,1.6 l4.2,-3.8" fill="none" stroke="#3f3f3f" stroke-width="1.05" stroke-linecap="round" stroke-linejoin="round"/>
<line x1="1212.0" y1="226.6" x2="1219.2" y2="226.6" stroke="#4a4a4a" stroke-width="0.9"/>
<path d="M1204.3,231.0 l1.9,1.6 l4.2,-3.8" fill="none" stroke="#3f3f3f" stroke-width="1.05" stroke-linecap="round" stroke-linejoin="round"/>
<line x1="1212.0" y1="231.3" x2="1219.2" y2="231.3" stroke="#777" stroke-width="1.5"/>
<path d="M1234.5,219.7 h13.2 q1.3,0 0.9,1.3 l-5.2,5.0 M1239.6,233.5 v-6.4 l-5.6,-6.0 q-0.6,-1.4 0.6,-1.4" fill="none" stroke="#9a9a9a" stroke-width="1.0" stroke-linejoin="round" stroke-linecap="round"/>
<path d="M1242.5,227.9 l6.0,5.8 M1248.5,227.9 l-6.0,5.8" fill="none" stroke="#b5b5b5" stroke-width="0.9" stroke-linecap="round"/>
<path d="M1204.3,356.4 l1.9,1.6 l4.2,-3.8" fill="none" stroke="#3f3f3f" stroke-width="1.05" stroke-linecap="round" stroke-linejoin="round"/>
<line x1="1212.0" y1="356.7" x2="1219.2" y2="356.7" stroke="#4a4a4a" stroke-width="0.9"/>
<path d="M1204.3,361.5 l1.9,1.6 l4.2,-3.8" fill="none" stroke="#3f3f3f" stroke-width="1.05" stroke-linecap="round" stroke-linejoin="round"/>
<line x1="1212.0" y1="361.8" x2="1219.2" y2="361.8" stroke="#4a4a4a" stroke-width="0.9"/>
<path d="M1204.3,366.2 l1.9,1.6 l4.2,-3.8" fill="none" stroke="#3f3f3f" stroke-width="1.05" stroke-linecap="round" stroke-linejoin="round"/>
<line x1="1212.0" y1="366.5" x2="1219.2" y2="366.5" stroke="#777" stroke-width="1.5"/>
<path d="M1234.5,354.9 h13.2 q1.3,0 0.9,1.3 l-5.2,5.0 M1239.6,368.7 v-6.4 l-5.6,-6.0 q-0.6,-1.4 0.6,-1.4" fill="none" stroke="#9a9a9a" stroke-width="1.0" stroke-linejoin="round" stroke-linecap="round"/>
<path d="M1242.5,363.1 l6.0,5.8 M1248.5,363.1 l-6.0,5.8" fill="none" stroke="#b5b5b5" stroke-width="0.9" stroke-linecap="round"/>
<path d="M1205.8,442.7 l1.9,1.6 l4.2,-3.8" fill="none" stroke="#3f3f3f" stroke-width="1.05" stroke-linecap="round" stroke-linejoin="round"/>
<line x1="1213.5" y1="443.0" x2="1220.7" y2="443.0" stroke="#4a4a4a" stroke-width="0.9"/>
<path d="M1205.8,447.8 l1.9,1.6 l4.2,-3.8" fill="none" stroke="#3f3f3f" stroke-width="1.05" stroke-linecap="round" stroke-linejoin="round"/>
<line x1="1213.5" y1="448.1" x2="1220.7" y2="448.1" stroke="#4a4a4a" stroke-width="0.9"/>
<path d="M1205.8,452.5 l1.9,1.6 l4.2,-3.8" fill="none" stroke="#3f3f3f" stroke-width="1.05" stroke-linecap="round" stroke-linejoin="round"/>
<line x1="1213.5" y1="452.8" x2="1220.7" y2="452.8" stroke="#777" stroke-width="1.5"/>
<path d="M1236.0,441.2 h13.2 q1.3,0 0.9,1.3 l-5.2,5.0 M1241.1,455.0 v-6.4 l-5.6,-6.0 q-0.6,-1.4 0.6,-1.4" fill="none" stroke="#9a9a9a" stroke-width="1.0" stroke-linejoin="round" stroke-linecap="round"/>
<path d="M1244.0,449.4 l6.0,5.8 M1250.0,449.4 l-6.0,5.8" fill="none" stroke="#b5b5b5" stroke-width="0.9" stroke-linecap="round"/>
</g>
<g id="logo">
<circle cx="90.7" cy="47" r="27.3" fill="#ffffff"/>
<circle cx="90.7" cy="47" r="27.3" fill="none" stroke="#dfe8e5" stroke-width="0.8" stroke-dasharray="1.5 1"/>
<path d="M66.8,36.2 L86,36.2 C92.5,36.2 95.2,41 95.2,46.2 C95.2,52.5 91.5,56.6 85.5,56.6 L80.5,56.6 L80.5,53.6 C86.5,54.2 89.6,51 89.6,46.2 C89.6,41.4 87,38.6 83,38.6 L77.4,38.6 L77.4,60.5 L75,63.6 L72.4,60.5 L72.4,39.6 C71.2,38.4 69,37.4 66.8,36.2 Z" fill="#1b6ec2"/>
<path d="M82.1,32.1 H94.7 V33.9 H92.6 L79.6,47.0 L95.8,67 H99 V68.8 H83.9 V67 H89.2 L76.9,50.2 L76.9,45.4 L89.6,33.9 H82.1 Z" fill="#1c3f30"/>
<rect x="94.1" y="50.1" width="2.5" height="3.2" fill="#d9532c"/>
<rect x="98.3" y="48.3" width="3.7" height="5" fill="#e08a3a"/>
<rect x="104.4" y="45.6" width="3.7" height="7.7" fill="#2e8b62"/>
<rect x="109.8" y="42.9" width="3.8" height="10.4" fill="#2d7fc4"/>
<rect x="93.5" y="53.3" width="20.6" height="0.9" fill="#7aa7cf" opacity="0.8"/>
<text transform="translate(91.2,57.9) scale(0.92,1)" font-size="2.9" text-anchor="start" fill="#333" stroke="#333" stroke-width="0" >PK-An Excel Expert</text>
<path d="M94.2,59.4 l0.45,1.0 l1.1,0.1 l-0.85,0.7 l0.3,1.1 l-1.0,-0.6 l-1.0,0.6 l0.3,-1.1 l-0.85,-0.7 l1.1,-0.1 Z" fill="#3b9ad6"/>
<path d="M98.6,59.4 l0.45,1.0 l1.1,0.1 l-0.85,0.7 l0.3,1.1 l-1.0,-0.6 l-1.0,0.6 l0.3,-1.1 l-0.85,-0.7 l1.1,-0.1 Z" fill="#3b9ad6"/>
<path d="M103.0,59.4 l0.45,1.0 l1.1,0.1 l-0.85,0.7 l0.3,1.1 l-1.0,-0.6 l-1.0,0.6 l0.3,-1.1 l-0.85,-0.7 l1.1,-0.1 Z" fill="#3b9ad6"/>
<path d="M107.4,59.4 l0.45,1.0 l1.1,0.1 l-0.85,0.7 l0.3,1.1 l-1.0,-0.6 l-1.0,0.6 l0.3,-1.1 l-0.85,-0.7 l1.1,-0.1 Z" fill="#3b9ad6"/>
<path d="M111.8,59.4 l0.45,1.0 l1.1,0.1 l-0.85,0.7 l0.3,1.1 l-1.0,-0.6 l-1.0,0.6 l0.3,-1.1 l-0.85,-0.7 l1.1,-0.1 Z" fill="#3b9ad6"/>
</g>
<g id="nav">
<text transform="translate(87.7,114.8) scale(0.9,1)" font-size="11" text-anchor="middle" fill="#f2f6f5" stroke="#f2f6f5" stroke-width="0.18" >Overview</text>
<text transform="translate(87.7,166.8) scale(0.9,1)" font-size="11" text-anchor="middle" fill="#f2f6f5" stroke="#f2f6f5" stroke-width="0.18" >Strore Analysis</text>
<text transform="translate(87.7,219.8) scale(0.9,1)" font-size="11" text-anchor="middle" fill="#f2f6f5" stroke="#f2f6f5" stroke-width="0.18" >Regional Analysis</text>
<text transform="translate(87.7,272.8) scale(0.9,1)" font-size="11" text-anchor="middle" fill="#8fb1a8" stroke="#8fb1a8" stroke-width="0.18" >Product Category</text>
<text transform="translate(87.7,325.8) scale(0.9,1)" font-size="11" text-anchor="middle" fill="#f2f6f5" stroke="#f2f6f5" stroke-width="0.18" >Monthly Trends</text>
</g>
</svg>
</body></html>
